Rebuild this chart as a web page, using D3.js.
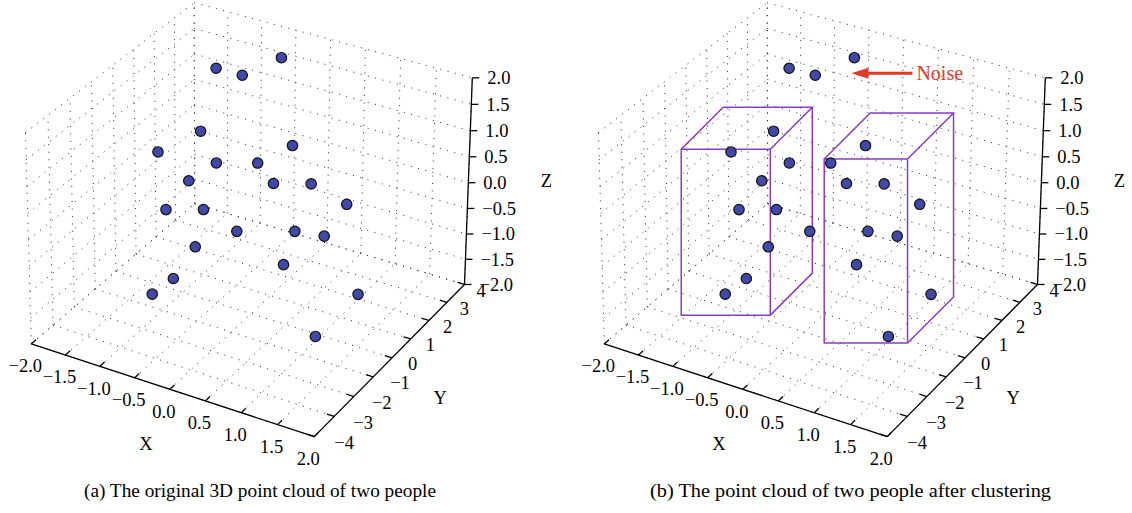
<!DOCTYPE html>
<html><head><meta charset="utf-8">
<script src="https://cdn.jsdelivr.net/npm/d3@7"></script>
<style>body{margin:0;background:#fff}svg{display:block}</style>
</head><body>
<svg id="chart" width="1132" height="513"></svg>
<script>
// ---------- data ----------
const xTicks = [-2, -1.5, -1, -0.5, 0, 0.5, 1, 1.5, 2];
const xTickLabels = ["−2.0","−1.5","−1.0","−0.5","0.0","0.5","1.0","1.5","2.0"];
const yTicks = [-4, -3, -2, -1, 0, 1, 2, 3, 4];
const yTickLabels = ["−4","−3","−2","−1","0","1","2","3","4"];
const zTicks = [-2, -1.5, -1, -0.5, 0, 0.5, 1, 1.5, 2];
const zTickLabels = ["−2.0","−1.5","−1.0","−0.5","0.0","0.5","1.0","1.5","2.0"];
const axisTitles = ["X", "Y", "Z"];
// 3D point cloud (X, Y, Z); cluster 0 = noise, 1 = person 1, 2 = person 2
const pointX = [-0.43,-1.44,-0.94,-0.44,-1.11,0.51,-0.16,0.08,-0.64,0.36,0.75,-0.91,-0.46,1.30,0.13,0.64,0.97,-0.52,0.54,-0.81,-1.06,1.56,1.19];
const pointY = [3.0,3.2,2.8,-1.0,-0.8,0.2,-1.2,0.0,-0.9,-0.2,0.3,-1.1,-0.8,0.1,-1.2,-0.1,0.2,-1.0,-0.3,-1.1,-1.3,-0.2,-1.0];
const pointZ = [1.80,1.17,1.34,1.66,0.95,1.37,1.24,0.94,0.62,0.73,0.71,0.03,0.11,0.61,0.07,-0.10,-0.16,-0.56,-0.71,-1.26,-1.60,-0.89,-1.57];
const pointCluster = [0,0,0,1,1,2,1,2,1,2,2,1,1,2,1,2,2,1,2,1,1,2,2];
const noiseLabel = "Noise";
const captions = ["(a) The original 3D point cloud of two people","(b) The point cloud of two people after clustering"];

// ---------- layout ----------
const panelOffsets = [0, 573];
// projection calibration: unit-cube corners -> panel pixels
const calib = [
  {c:[0,0,0], p:[32,345]},
  {c:[1,0,0], p:[313,437]},
  {c:[1,1,0], p:[465,283]},
  {c:[1,1,1], p:[473,79]},
  {c:[0,1,1], p:[193,3]},
  {c:[0,0,1], p:[26,131]}
];
// cluster annotation boxes: padding around projected cluster + oblique depth
const boxStyle = [
  null,
  {l:44, r:2.5, t:24, b:21, d:42},
  {l:6.5, r:22.5, t:32.5, b:6.5, d:46}
];
const captionX = [84, 650], captionW = [352, 401], captionY = 497;

const sx = d3.scaleLinear().domain([-2,2]).range([0,1]);
const sy = d3.scaleLinear().domain([-4,4]).range([0,1]);
const sz = d3.scaleLinear().domain([-2,2]).range([0,1]);

function fitProjection(cal){
  const A=[], b=[];
  cal.forEach(({c,p})=>{
    const [x,y,z]=c,[u,v]=p;
    A.push([x,y,z,1,0,0,0,0,-u*x,-u*y,-u*z]); b.push(u);
    A.push([0,0,0,0,x,y,z,1,-v*x,-v*y,-v*z]); b.push(v);
  });
  const n=11, M=[];
  for(let i=0;i<n;i++){
    const row=new Array(n+1).fill(0);
    for(let j=0;j<n;j++) for(let k=0;k<A.length;k++) row[j]+=A[k][i]*A[k][j];
    for(let k=0;k<A.length;k++) row[n]+=A[k][i]*b[k];
    M.push(row);
  }
  for(let i=0;i<n;i++){
    let piv=i; for(let r=i+1;r<n;r++) if(Math.abs(M[r][i])>Math.abs(M[piv][i])) piv=r;
    const t=M[i]; M[i]=M[piv]; M[piv]=t;
    for(let r=0;r<n;r++){ if(r===i) continue; const f=M[r][i]/M[i][i]; for(let c=i;c<=n;c++) M[r][c]-=f*M[i][c]; }
  }
  return M.map((row,i)=>row[n]/row[i]);
}
const P = fitProjection(calib);
function projN(cx,cy,cz){
  const w=P[8]*cx+P[9]*cy+P[10]*cz+1;
  return [(P[0]*cx+P[1]*cy+P[2]*cz+P[3])/w,(P[4]*cx+P[5]*cy+P[6]*cz+P[7])/w];
}
function proj(X,Y,Z){ return projN(sx(X),sy(Y),sz(Z)); }

const svg = d3.select("#chart");
const font = "'Liberation Serif','Times New Roman',serif";
const points = pointX.map((x,i)=>({X:x,Y:pointY[i],Z:pointZ[i],c:pointCluster[i]}));

function drawPanel(off, clustered){
  const g = svg.append("g").attr("transform",`translate(${off},0)`);
  // dotted face grids
  const grid = g.append("g").attr("fill","none").attr("stroke","#2a2a2a").attr("stroke-width",1).attr("stroke-dasharray","1 6.5");
  const seg = (a,b)=>grid.append("line").attr("x1",a[0]).attr("y1",a[1]).attr("x2",b[0]).attr("y2",b[1]);
  yTicks.forEach(Y=>{ seg(proj(-2,Y,-2),proj(-2,Y,2)); seg(proj(-2,Y,-2),proj(2,Y,-2)); });
  zTicks.forEach(Z=>{ seg(proj(-2,-4,Z),proj(-2,4,Z)); seg(proj(-2,4,Z),proj(2,4,Z)); });
  xTicks.forEach(X=>{ seg(proj(X,4,-2),proj(X,4,2)); seg(proj(X,-4,-2),proj(X,4,-2)); });

  // axes
  const ax = g.append("g").attr("stroke","#000").attr("stroke-width",1.3).attr("fill","none");
  const line=(a,b)=>ax.append("line").attr("x1",a[0]).attr("y1",a[1]).attr("x2",b[0]).attr("y2",b[1]);
  line(proj(-2,-4,-2),proj(2,-4,-2));
  line(proj(2,-4,-2),proj(2,4,-2));
  line(proj(2,4,-2),proj(2,4,2));
  const txt = g.append("g").attr("font-family",font).attr("font-size",18.5).attr("fill","#000");
  xTicks.forEach((X,i)=>{
    const a=proj(X,-4,-2), b=proj(X,-3.78,-2); line(a,b);
    txt.append("text").attr("x",a[0]-6).attr("y",a[1]+22).attr("dy","0.35em").attr("text-anchor","middle").text(xTickLabels[i]);
  });
  yTicks.forEach((Y,i)=>{
    const a=proj(2,Y,-2), b=proj(1.9,Y,-2); line(a,b);
    txt.append("text").attr("x",a[0]+20-i).attr("y",a[1]+6).attr("dy","0.35em").attr("text-anchor","start").text(yTickLabels[i]);
  });
  zTicks.forEach((Z,i)=>{
    const a=proj(2,4,Z); line(a,[a[0]+7,a[1]]);
    txt.append("text").attr("x",a[0]+15).attr("y",a[1]).attr("dy","0.35em").attr("text-anchor","start").text(zTickLabels[i]);
  });
  const tx=proj(0,-4,-2), ty=proj(2,0,-2), tz=proj(2,4,0);
  txt.append("text").attr("x",tx[0]-24).attr("y",tx[1]+54).attr("dy","0.35em").attr("text-anchor","middle").text(axisTitles[0]);
  txt.append("text").attr("x",ty[0]+48).attr("y",ty[1]+40).attr("dy","0.35em").attr("text-anchor","middle").text(axisTitles[1]);
  txt.append("text").attr("x",tz[0]+78).attr("y",tz[1]-2).attr("dy","0.35em").attr("text-anchor","middle").text(axisTitles[2]);

  const pts = points.map(d=>({p:proj(d.X,d.Y,d.Z),c:d.c}));

  if(clustered){
    // cluster boxes (oblique wireframe, hidden edges omitted)
    const bx = g.append("g").attr("fill","none").attr("stroke","#8b3cc6").attr("stroke-width",1.5);
    [1,2].forEach(k=>{
      const s=boxStyle[k], cp=pts.filter(d=>d.c===k);
      const x0=d3.min(cp,d=>d.p[0])-s.l, x1=d3.max(cp,d=>d.p[0])+s.r;
      const y0=d3.min(cp,d=>d.p[1])-s.t, y1=d3.max(cp,d=>d.p[1])+s.b;
      const fx1=x1-s.d, fy0=y0+s.d, by1=y1-s.d;
      const path=d3.path();
      path.rect(x0,fy0,fx1-x0,y1-fy0);
      path.moveTo(x0,fy0); path.lineTo(x0+s.d,y0); path.lineTo(x1,y0); path.lineTo(fx1,fy0);
      path.moveTo(x1,y0); path.lineTo(x1,by1); path.lineTo(fx1,y1);
      bx.append("path").attr("d",path.toString());
    });
    // noise arrow
    const np=pts.filter(d=>d.c===0);
    const tipX=d3.max(np,d=>d.p[0])-3, tipY=d3.max(np,d=>d.p[1])-2;
    const tailX=tipX+61;
    const red="#e2382a";
    g.append("line").attr("x1",tipX+14).attr("y1",tipY).attr("x2",tailX).attr("y2",tipY)
      .attr("stroke",red).attr("stroke-width",3);
    g.append("path").attr("d",`M${tipX},${tipY}L${tipX+17},${tipY-5.5}L${tipX+17},${tipY+5.5}Z`).attr("fill",red);
    g.append("text").attr("x",tailX+4).attr("y",tipY).attr("dy","0.35em").attr("font-family",font)
      .attr("font-size",20).attr("fill",red).text(noiseLabel);
  }

  g.append("g").selectAll("circle").data(pts).join("circle")
    .attr("cx",d=>d.p[0]).attr("cy",d=>d.p[1]).attr("r",5.2)
    .attr("fill","#4048a8").attr("stroke","#111").attr("stroke-width",1.2);
}
panelOffsets.forEach((o,i)=>drawPanel(o,i===1));

svg.append("g").attr("font-family",font).attr("font-size",19).selectAll("text").data(captions).join("text")
  .attr("x",(d,i)=>captionX[i]).attr("y",captionY)
  .attr("textLength",(d,i)=>captionW[i]).attr("lengthAdjust","spacingAndGlyphs").text(d=>d);
</script>
</body></html>
